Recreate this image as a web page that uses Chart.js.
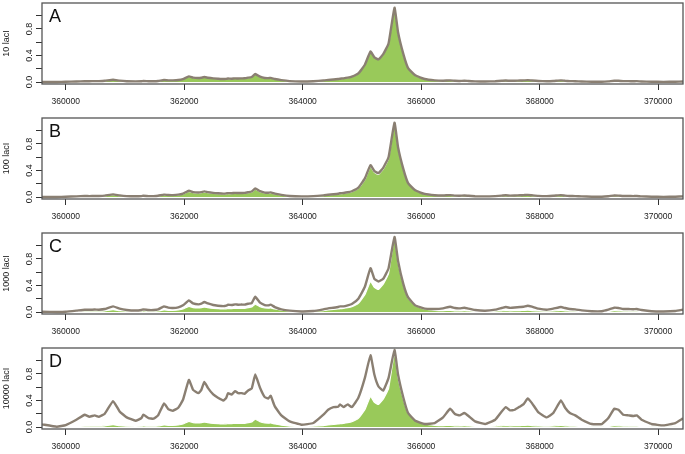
<!DOCTYPE html>
<html>
<head>
<meta charset="utf-8">
<script src="https://cdn.jsdelivr.net/npm/chart.js@4"></script>
<style>
  html, body { margin: 0; padding: 0; background: #fff; overflow: hidden; }
  #wrap { position: relative; width: 685px; height: 454px; overflow: hidden; }
  .panel { position: absolute; left: 0; width: 685px; height: 115px; }
</style>
</head>
<body>
<div id="wrap">
  <div class="panel" style="top:0px"><canvas id="pA"></canvas></div>
  <div class="panel" style="top:115px"><canvas id="pB"></canvas></div>
  <div class="panel" style="top:230px"><canvas id="pC"></canvas></div>
  <div class="panel" style="top:345px"><canvas id="pD"></canvas></div>
</div>
<script>
// genome positions (bp)
var positions = [
  359600, 359850, 360000, 360180, 360320, 360400, 360490, 360560, 360660, 360800,
  360910, 361030, 361180, 361280, 361310, 361400, 361480, 361560, 361660, 361730,
  361810, 361900, 361980, 362080, 362150, 362240, 362290, 362340, 362400, 362490,
  362570, 362660, 362710, 362740, 362800, 362860, 362910, 362970, 363020, 363080,
  363140, 363200, 363280, 363360, 363420, 363460, 363530, 363640, 363780, 363980,
  364180, 364350, 364430, 364520, 364600, 364630, 364690, 364760, 364830, 364940,
  365050, 365145, 365210, 365280, 365360, 365450, 365550, 365610, 365700, 365780,
  365900, 366060, 366230, 366370, 366490, 366570, 366650, 366730, 366800, 366910,
  367080, 367250, 367360, 367430, 367500, 367580, 367670, 367730, 367800, 367870,
  367980, 368120, 368230, 368360, 368430, 368510, 368600, 368710, 368880, 369050,
  369160, 369260, 369330, 369410, 369500, 369580, 369640, 369720, 369890, 370090,
  370290, 370420
];

// reference occupancy (green area, same in every panel)
var green = [
  0.0, 0.0, 0.003, 0.008, 0.012, 0.012, 0.014, 0.014, 0.018, 0.035,
  0.02, 0.012, 0.01, 0.012, 0.016, 0.012, 0.012, 0.016, 0.03, 0.025,
  0.025, 0.03, 0.045, 0.085, 0.065, 0.06, 0.065, 0.075, 0.065, 0.055,
  0.05, 0.045, 0.048, 0.052, 0.05, 0.055, 0.053, 0.055, 0.056, 0.065,
  0.075, 0.12, 0.08, 0.06, 0.058, 0.062, 0.045, 0.028, 0.014, 0.008,
  0.012, 0.022, 0.03, 0.038, 0.045, 0.05, 0.055, 0.065, 0.08, 0.13,
  0.26, 0.46, 0.37, 0.34, 0.42, 0.58, 1.12, 0.75, 0.42, 0.21,
  0.10, 0.045, 0.025, 0.02, 0.025, 0.018, 0.016, 0.02, 0.015, 0.01,
  0.008, 0.012, 0.018, 0.022, 0.018, 0.02, 0.022, 0.024, 0.028, 0.022,
  0.015, 0.012, 0.015, 0.025, 0.018, 0.014, 0.012, 0.008, 0.004, 0.004,
  0.01, 0.02, 0.018, 0.014, 0.013, 0.012, 0.013, 0.008, 0.004, 0.002,
  0.004, 0.008
];

// 10 lacI : lies on the green area
var lineA = green.slice();

// 100 lacI
var lineB = [
  0.0, 0.0, 0.004, 0.01, 0.015, 0.014, 0.016, 0.016, 0.021, 0.04,
  0.024, 0.014, 0.011, 0.014, 0.019, 0.014, 0.014, 0.019, 0.036, 0.03,
  0.029, 0.035, 0.052, 0.095, 0.074, 0.068, 0.073, 0.085, 0.073, 0.062,
  0.056, 0.051, 0.054, 0.059, 0.057, 0.062, 0.06, 0.061, 0.062, 0.072,
  0.083, 0.13, 0.088, 0.067, 0.065, 0.07, 0.05, 0.032, 0.016, 0.009,
  0.013, 0.025, 0.034, 0.042, 0.05, 0.056, 0.061, 0.071, 0.087, 0.14,
  0.28, 0.48, 0.39, 0.36, 0.44, 0.6, 1.12, 0.75, 0.42, 0.21,
  0.1, 0.046, 0.027, 0.023, 0.029, 0.021, 0.019, 0.023, 0.018, 0.012,
  0.009, 0.014, 0.021, 0.026, 0.021, 0.023, 0.026, 0.028, 0.032, 0.026,
  0.017, 0.014, 0.018, 0.029, 0.021, 0.016, 0.014, 0.009, 0.005, 0.005,
  0.012, 0.023, 0.021, 0.016, 0.015, 0.014, 0.015, 0.009, 0.005, 0.002,
  0.005, 0.009
];

// 1000 lacI
var lineC = [
  0.005, 0.0, 0.003, 0.02, 0.035, 0.033, 0.037, 0.035, 0.045, 0.085,
  0.05, 0.03, 0.022, 0.03, 0.04, 0.03, 0.03, 0.04, 0.085, 0.065,
  0.06, 0.07, 0.1, 0.175, 0.13, 0.115, 0.125, 0.15, 0.13, 0.105,
  0.095, 0.088, 0.095, 0.11, 0.105, 0.115, 0.11, 0.112, 0.112, 0.125,
  0.135, 0.23, 0.14, 0.105, 0.1, 0.11, 0.075, 0.04, 0.02, 0.008,
  0.015, 0.04, 0.055, 0.065, 0.075, 0.085, 0.085, 0.1, 0.12, 0.2,
  0.38, 0.66, 0.5, 0.46, 0.5, 0.66, 1.13, 0.77, 0.42, 0.22,
  0.1, 0.05, 0.045, 0.055, 0.08, 0.06, 0.055, 0.065, 0.05, 0.03,
  0.02, 0.035, 0.06, 0.075, 0.063, 0.067, 0.075, 0.08, 0.095, 0.08,
  0.05, 0.035, 0.05, 0.075, 0.06, 0.045, 0.04, 0.025, 0.012, 0.012,
  0.035, 0.065, 0.06, 0.045, 0.045, 0.042, 0.045, 0.03, 0.012, 0.008,
  0.015, 0.035
];

// 10000 lacI
var lineD = [
  0.04, 0.005, 0.03, 0.11, 0.185, 0.155, 0.175, 0.155, 0.2, 0.39,
  0.235, 0.145, 0.095, 0.135, 0.185, 0.135, 0.125, 0.175, 0.355, 0.27,
  0.245, 0.29, 0.41, 0.71, 0.56, 0.51, 0.56, 0.68, 0.59, 0.49,
  0.44, 0.40, 0.44, 0.51, 0.49, 0.54, 0.51, 0.51, 0.50, 0.55,
  0.58, 0.79, 0.59, 0.45, 0.43, 0.47, 0.31, 0.175, 0.085, 0.035,
  0.06, 0.185, 0.26, 0.30, 0.305, 0.34, 0.30, 0.34, 0.30, 0.44,
  0.74, 1.08, 0.79, 0.61, 0.55, 0.74, 1.16, 0.79, 0.44, 0.21,
  0.095, 0.045, 0.06, 0.145, 0.275, 0.195, 0.175, 0.21, 0.165, 0.085,
  0.045, 0.11, 0.235, 0.30, 0.25, 0.26, 0.31, 0.345, 0.43, 0.36,
  0.22, 0.145, 0.21, 0.40, 0.29, 0.21, 0.175, 0.11, 0.045, 0.045,
  0.135, 0.275, 0.26, 0.185, 0.175, 0.165, 0.175, 0.11, 0.045, 0.025,
  0.06, 0.13
];

var xTicks = [360000, 362000, 364000, 366000, 368000, 370000];
var yTicks = [0, 0.2, 0.4, 0.6, 0.8, 1.0];
var yLabels = [0, 0.4, 0.8];

var panels = [
  { id: 'pA', letter: 'A', title: '10 lacI', line: lineA },
  { id: 'pB', letter: 'B', title: '100 lacI', line: lineB },
  { id: 'pC', letter: 'C', title: '1000 lacI', line: lineC },
  { id: 'pD', letter: 'D', title: '10000 lacI', line: lineD }
];

function pts(arr) {
  return positions.map(function (x, i) { return { x: x, y: arr[i] }; });
}

var FONT = '"Liberation Sans", Arial, sans-serif';

var framePlugin = {
  id: 'frame',
  afterDraw: function (chart, args, opts) {
    var ctx = chart.ctx, a = chart.chartArea, ys = chart.scales.y;
    ctx.save();
    ctx.strokeStyle = '#555';
    ctx.lineWidth = 1.3;
    ctx.strokeRect(a.left, a.top, a.right - a.left, a.bottom - a.top);

    ctx.fillStyle = '#111';
    ctx.font = '18px ' + FONT;
    ctx.textAlign = 'left';
    ctx.textBaseline = 'alphabetic';
    ctx.fillText(opts.letter, a.left + 7, a.top + 19);

    ctx.fillStyle = '#222';
    ctx.font = '9px ' + FONT;
    ctx.textAlign = 'center';
    ctx.textBaseline = 'middle';
    yLabels.forEach(function (v) {
      ctx.save();
      ctx.translate(a.left - 12.5, ys.getPixelForValue(v));
      ctx.rotate(-Math.PI / 2);
      ctx.fillText(v.toFixed(1), 0, 0);
      ctx.restore();
    });
    ctx.translate(6.5, (a.top + a.bottom) / 2);
    ctx.rotate(-Math.PI / 2);
    ctx.fillText(opts.title, 0, 0);
    ctx.restore();
  }
};

panels.forEach(function (p) {
  new Chart(p.id, {
    type: 'line',
    data: {
      datasets: [{
        data: pts(p.line),
        borderColor: '#8a7f72',
        borderWidth: 2.4,
        pointRadius: 0,
        tension: 0.12,
        fill: false,
        order: 1
      }, {
        data: pts(green),
        borderColor: '#ffffff',
        borderWidth: 1.2,
        backgroundColor: '#99c95a',
        pointRadius: 0,
        tension: 0.12,
        fill: 'origin',
        order: 2
      }]
    },
    options: {
      responsive: true,
      maintainAspectRatio: false,
      animation: false,
      events: [],
      layout: { padding: { top: 3, right: 2, left: 0, bottom: 0 } },
      plugins: {
        legend: { display: false },
        tooltip: { enabled: false },
        frame: { letter: p.letter, title: p.title }
      },
      scales: {
        x: {
          type: 'linear',
          min: 359600,
          max: 370420,
          afterBuildTicks: function (s) {
            s.ticks = xTicks.map(function (v) { return { value: v }; });
          },
          afterFit: function (s) { s.height = 31; },
          border: { display: false },
          grid: { drawOnChartArea: false, drawTicks: true, tickLength: 6, color: '#333' },
          ticks: {
            color: '#222',
            font: { family: FONT, size: 8.5 },
            padding: 7,
            maxRotation: 0,
            autoSkip: false,
            callback: function (v) { return String(v); }
          }
        },
        y: {
          type: 'linear',
          min: -0.03,
          max: 1.19,
          afterBuildTicks: function (s) {
            s.ticks = yTicks.map(function (v) { return { value: v }; });
          },
          afterFit: function (s) { s.width = 42; },
          border: { display: false },
          grid: { drawOnChartArea: false, drawTicks: true, tickLength: 6, color: '#333' },
          ticks: { display: false }
        }
      }
    },
    plugins: [framePlugin]
  });
});
</script>
</body>
</html>
